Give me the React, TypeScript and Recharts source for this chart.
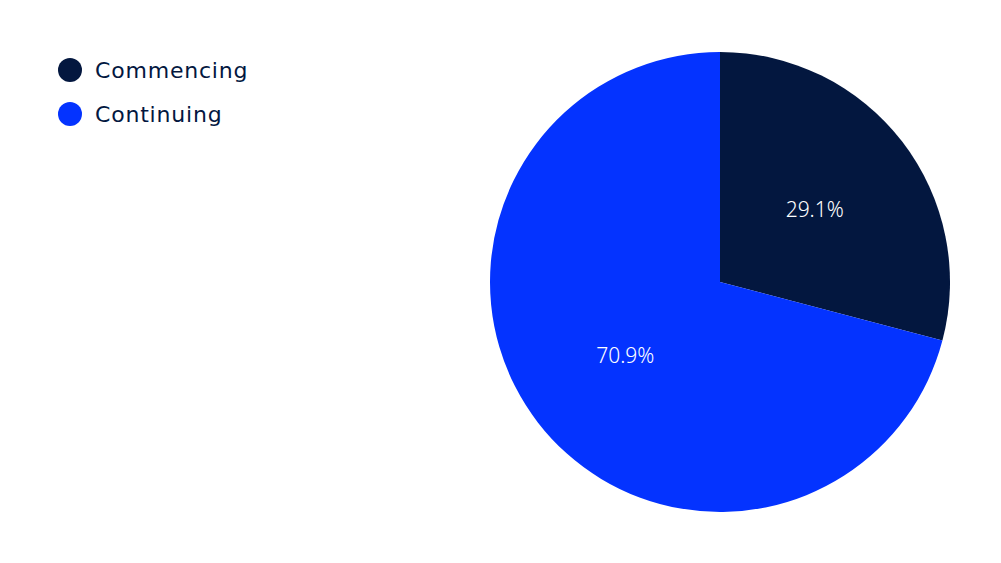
import { Cell, Legend, Pie, PieChart } from "recharts";

const categories = ["Commencing", "Continuing"];
const shares = [29.1, 70.9];
const colors = ["#03173F", "#0433FF"];

const data = categories.map((name, i) => ({ name, value: shares[i] }));

const RADIAN = Math.PI / 180;

function renderLabel(props: any) {
  const { cx, cy, midAngle, outerRadius, value } = props;
  const r = outerRadius * 0.52;
  const x = cx + r * Math.cos(-midAngle * RADIAN);
  const y = cy + r * Math.sin(-midAngle * RADIAN);
  return (
    <text
      x={x}
      y={y}
      fill="#ffffff"
      textAnchor="middle"
      dominantBaseline="central"
      fontSize={21}
      fontWeight={300}
      fontFamily="'Noto Sans', sans-serif"
    >
      {`${value.toFixed(1)}%`}
    </text>
  );
}

function LegendContent() {
  return (
    <div>
      {categories.map((name, i) => (
        <div
          key={name}
          style={{ display: "flex", alignItems: "center", height: 44 }}
        >
          <span
            style={{
              width: 24,
              height: 24,
              borderRadius: "50%",
              background: colors[i],
              marginRight: 13,
            }}
          />
          <span
            style={{
              fontSize: 22,
              color: "#03173F",
              fontFamily: "'DejaVu Sans', sans-serif",
              letterSpacing: 0.8,
            }}
          >
            {name}
          </span>
        </div>
      ))}
    </div>
  );
}

export default function App() {
  return (
    <div
      style={{
        position: "absolute",
        left: 0,
        top: 0,
        width: 1001,
        height: 563,
        background: "#ffffff",
      }}
    >
      <PieChart width={1001} height={563}>
        <Legend
          layout="vertical"
          align="right"
          verticalAlign="top"
          content={<LegendContent />}
          wrapperStyle={{ left: 58, top: 48, right: "auto", width: 300 }}
        />
        <Pie
          data={data}
          dataKey="value"
          nameKey="name"
          cx={715}
          cy={277}
          outerRadius={230}
          startAngle={90}
          endAngle={-270}
          stroke="none"
          labelLine={false}
          label={renderLabel}
          isAnimationActive={false}
        >
          {data.map((d, i) => (
            <Cell key={d.name} fill={colors[i]} />
          ))}
        </Pie>
      </PieChart>
    </div>
  );
}
